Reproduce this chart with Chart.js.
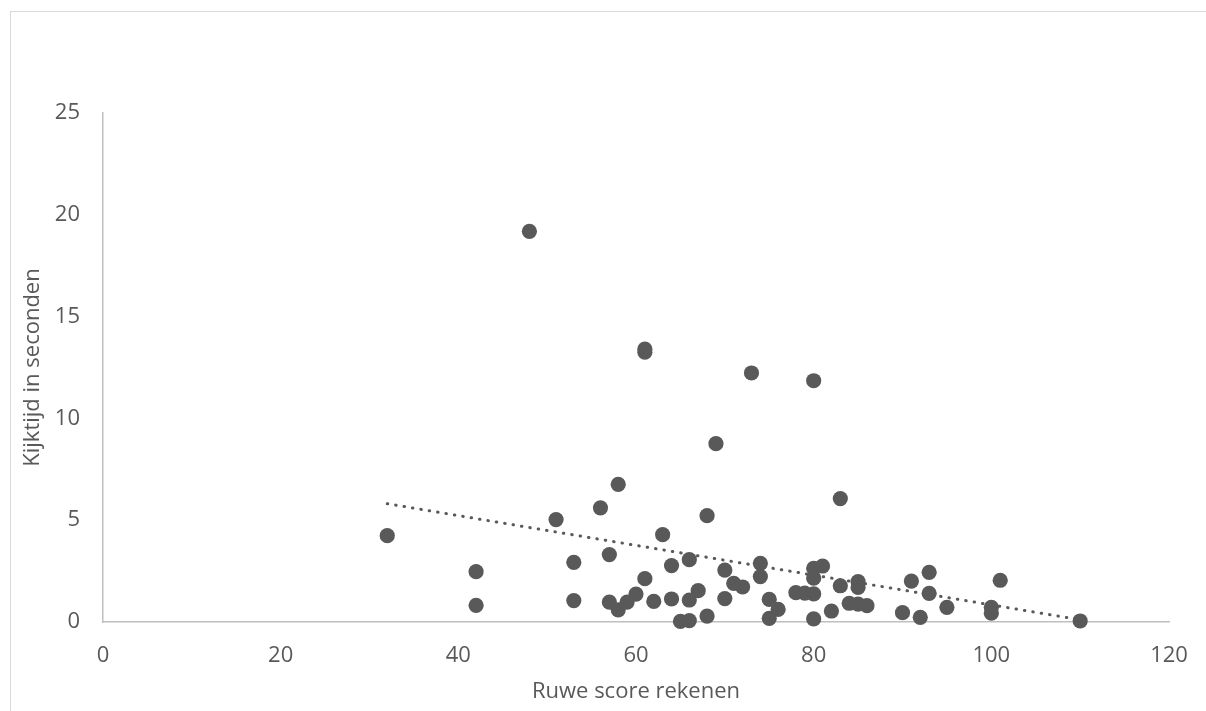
<!DOCTYPE html>
<html>
<head>
<meta charset="utf-8">
<script src="https://cdn.jsdelivr.net/npm/chart.js@4"></script>
<style>
  html, body { margin: 0; padding: 0; background: #fff; overflow: hidden; }
  #frame {
    position: absolute; left: 10px; top: 11px; width: 1300px; height: 800px;
    border-left: 1px solid #d9d9d9; border-top: 1px solid #d9d9d9;
  }
  #wrap { position: absolute; left: 0; top: 0; width: 1206px; height: 711px; }
</style>
</head>
<body>
<div id="frame"></div>
<div id="wrap"><canvas id="chart"></canvas></div>
<script>
// Ruwe score rekenen (x) en kijktijd in seconden (y)
const scoreRekenen = [
  32, 42, 42, 48, 51, 53, 53, 56, 57, 57, 58, 58, 59, 60, 61, 61, 61, 62,
  63, 64, 64, 65, 66, 66, 66, 67, 68, 68, 69, 70, 70, 71, 72, 73, 74, 74,
  75, 75, 76, 78, 79, 80, 80, 80, 80, 80, 81, 82, 83, 83, 84, 85, 85, 85,
  86, 90, 91, 92, 93, 93, 95, 100, 100, 101, 110
];
const kijktijd = [
  4.24, 2.47, 0.82, 19.19, 5.03, 2.93, 1.05, 5.61, 3.31, 0.98, 6.76, 0.6, 0.98, 1.37, 2.13, 13.25, 13.4, 1.01,
  4.29, 2.77, 1.13, 0.03, 3.06, 1.08, 0.07, 1.54, 5.22, 0.29, 8.76, 2.55, 1.15, 1.9, 1.72, 12.23, 2.88, 2.23,
  1.11, 0.18, 0.62, 1.44, 1.42, 2.64, 2.15, 1.38, 0.15, 11.85, 2.75, 0.54, 6.06, 1.78, 0.92, 1.98, 1.7, 0.88,
  0.8, 0.46, 2.01, 0.23, 2.44, 1.41, 0.72, 0.72, 0.43, 2.05, 0.05
];

// trendlijn (begin- en eindpunt)
const trendX = [32, 110];
const trendY = [5.81, 0.11];

const xTicks = [0, 20, 40, 60, 80, 100, 120];
const yTicks = [0, 5, 10, 15, 20, 25];

const grey = "#595959";
const font = { family: "'Open Sans', sans-serif", size: 22 };

const points = scoreRekenen.map((x, i) => ({ x: x, y: kijktijd[i] }));
const trend = trendX.map((x, i) => ({ x: x, y: trendY[i] }));

new Chart(document.getElementById("chart"), {
  type: "scatter",
  data: {
    datasets: [
      {
        type: "line",
        label: "Trend",
        data: trend,
        borderColor: grey,
        borderWidth: 3,
        borderDash: [0.5, 8],
        borderCapStyle: "round",
        pointRadius: 0,
        fill: false,
        clip: false,
      },
      {
        label: "Kijktijd",
        data: points,
        backgroundColor: grey,
        borderColor: grey,
        borderWidth: 0,
        pointRadius: 7.6,
        pointHoverRadius: 7.6,
        clip: false,
      },
    ],
  },
  options: {
    responsive: true,
    maintainAspectRatio: false,
    animation: false,
    layout: { padding: { left: 0, right: 37, top: 113, bottom: 0 } },
    plugins: {
      legend: { display: false },
      tooltip: { enabled: false },
    },
    scales: {
      x: {
        type: "linear",
        min: 0,
        max: 120,
        afterBuildTicks: (scale) => {
          scale.ticks = xTicks.map((v) => ({ value: v }));
        },
        afterFit: (scale) => {
          scale.height = 89;
        },
        grid: { display: false },
        border: { display: true, color: "#bfbfbf", width: 1.5 },
        ticks: { color: grey, font: font, padding: 13, maxRotation: 0 },
        title: {
          display: true,
          text: "Ruwe score rekenen",
          color: grey,
          font: font,
          padding: { top: 0, bottom: 6 },
        },
      },
      y: {
        type: "linear",
        min: 0,
        max: 25,
        afterBuildTicks: (scale) => {
          scale.ticks = yTicks.map((v) => ({ value: v }));
        },
        afterFit: (scale) => {
          scale.width = 103;
        },
        grid: { display: false },
        border: { display: true, color: "#bfbfbf", width: 1.5 },
        ticks: { color: grey, font: font, padding: 15 },
        title: {
          display: true,
          text: "Kijktijd in seconden",
          color: grey,
          font: font,
          padding: { top: 20, bottom: 0 },
        },
      },
    },
  },
});
</script>
</body>
</html>
